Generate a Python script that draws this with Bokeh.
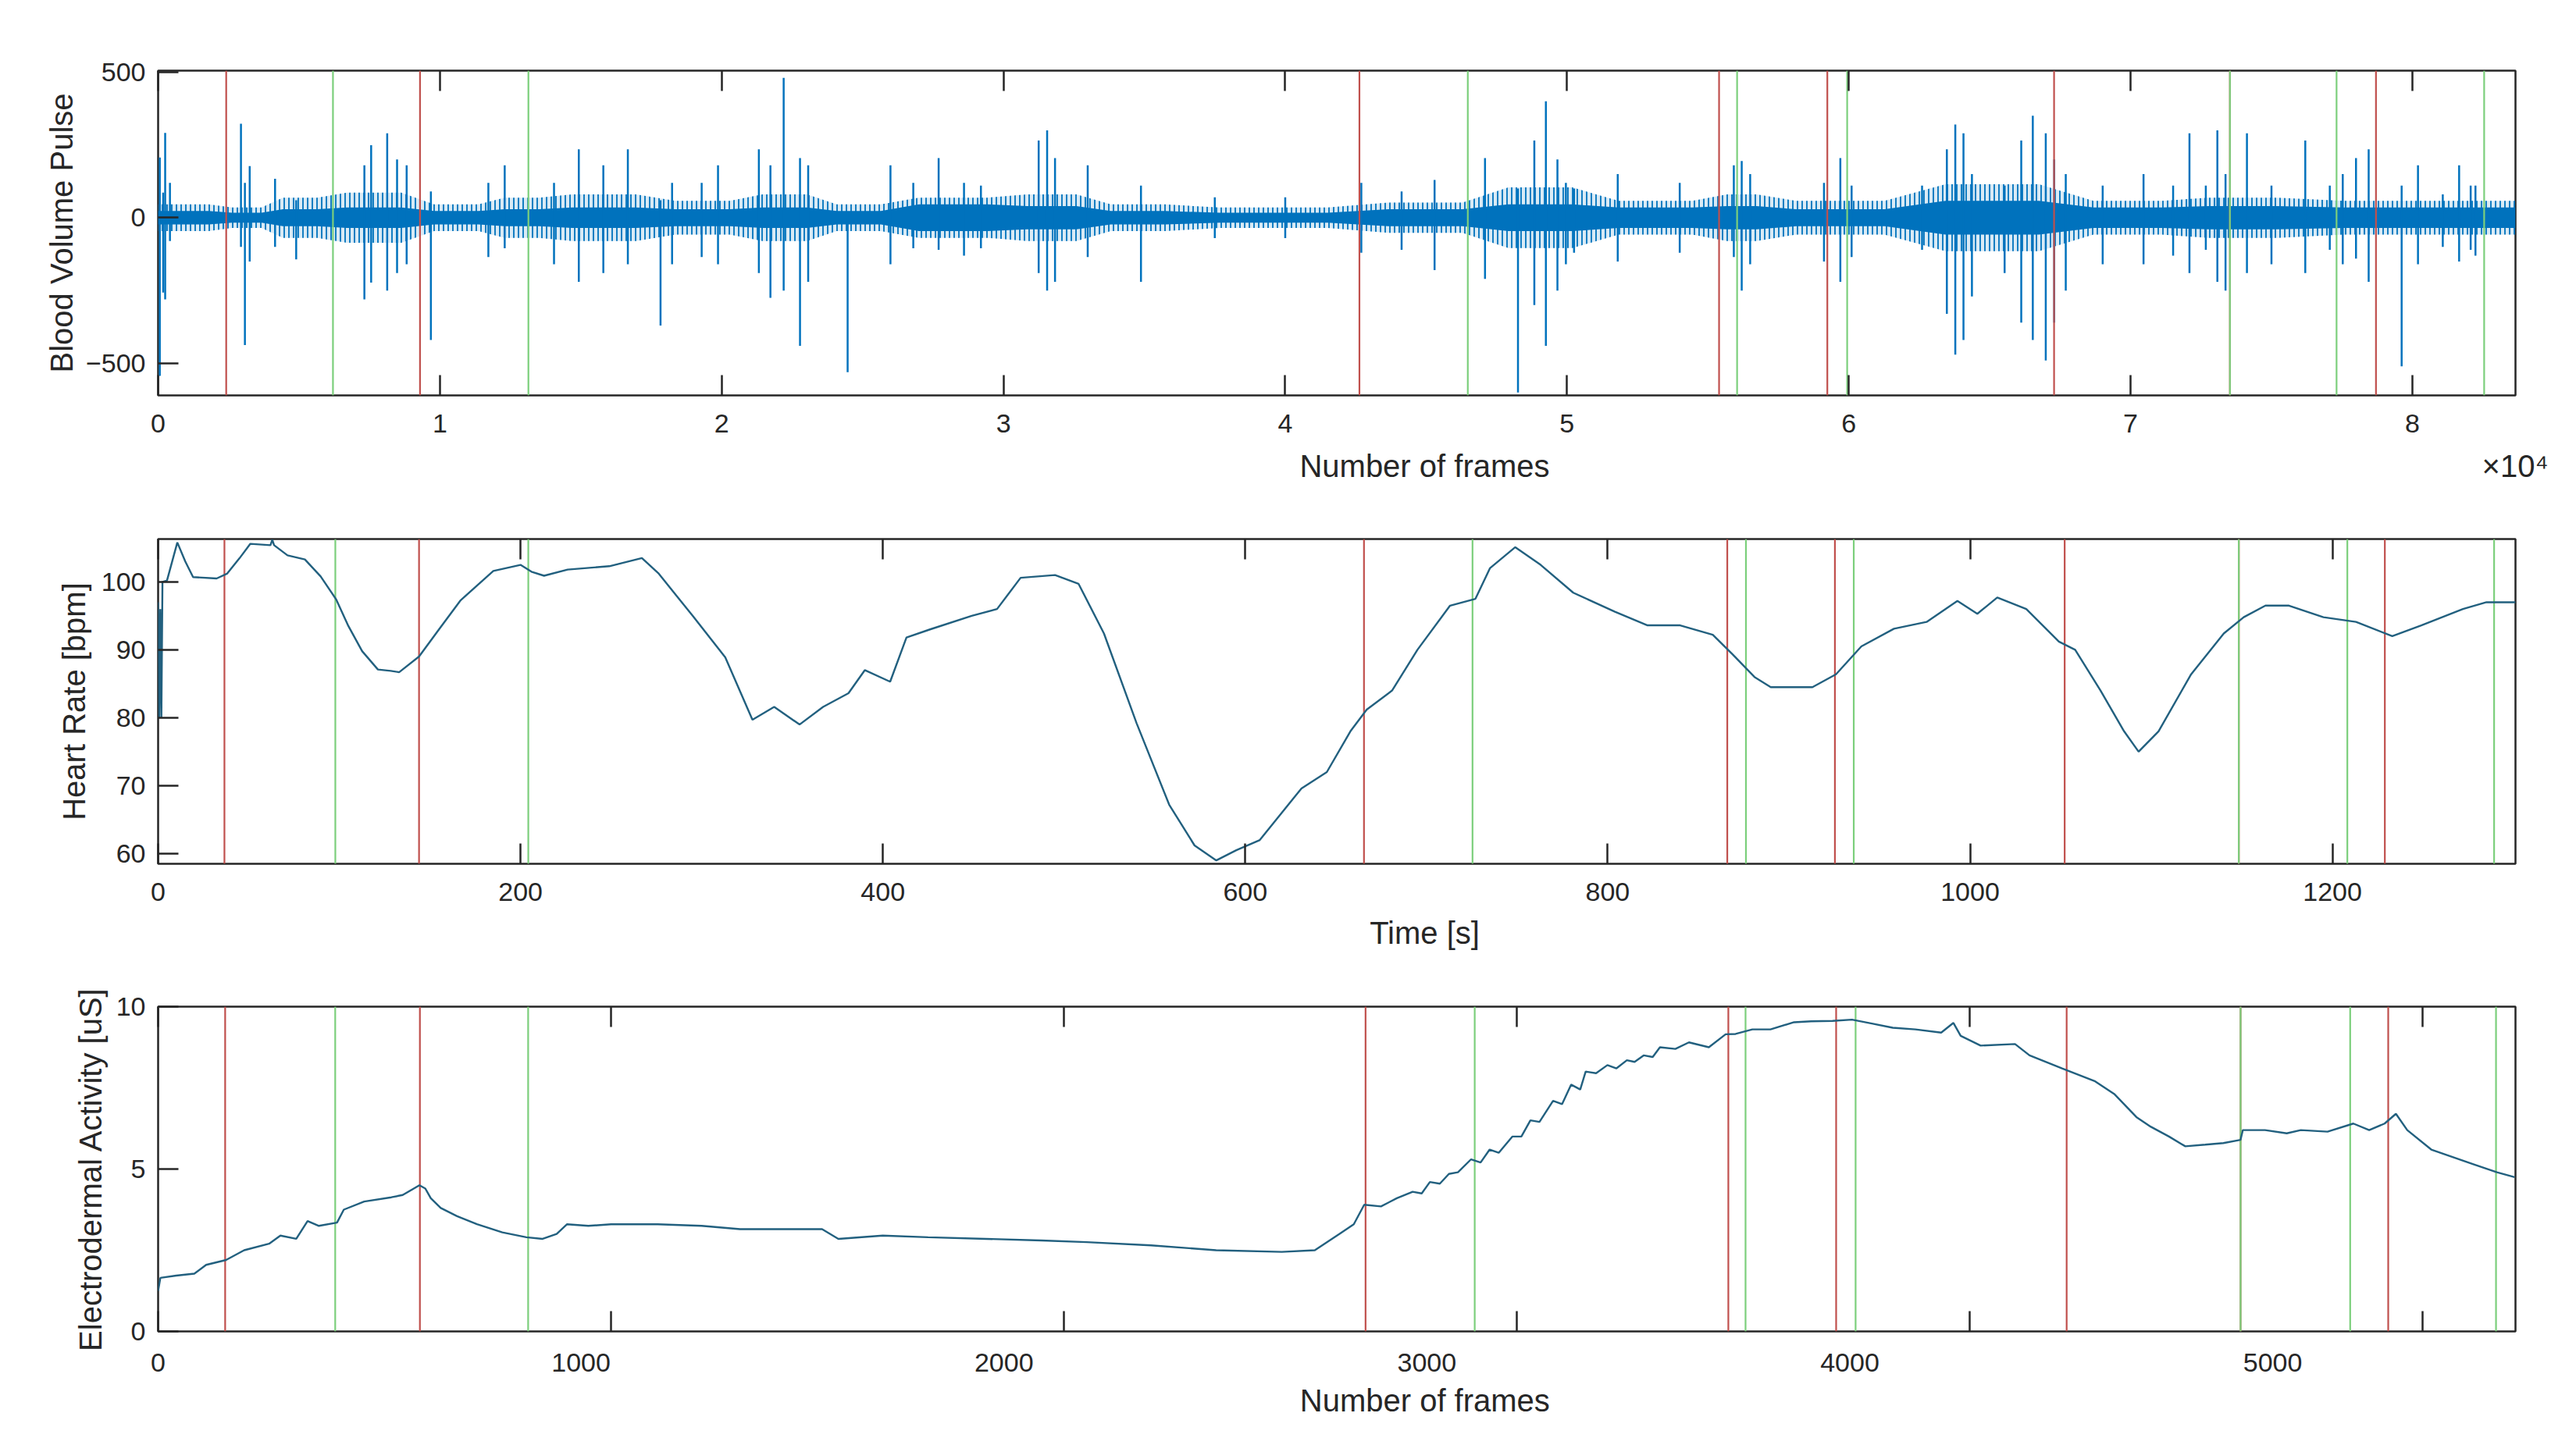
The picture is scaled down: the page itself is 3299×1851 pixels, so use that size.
from bokeh.plotting import figure
from bokeh.layouts import column
from bokeh.models import Range1d, LinearAxis, FixedTicker
from bokeh.embed import file_html
from bokeh.resources import INLINE

# ---------------- data: Blood Volume Pulse (frames, 64 Hz) ----------------
# dense part of the signal: half-height of the solid core and of the fuzzy halo of
# small oscillations, read zone by zone (two nodes per zone)
bvp_band_frames = [0, 1800, 2620, 3670, 4430, 5650, 6700, 8630, 9790, 11370, 12300, 13520,
                   14690, 16960, 18360, 20290, 21450, 23030, 24080, 25650, 27000, 29440,
                   30840, 32590, 33810, 35740, 37660, 41510, 43660, 46290, 47920, 50190,
                   51830, 54450, 55680, 56730, 58130, 61270, 63430, 66750, 68680, 71120,
                   72760, 75200, 77550, 83660]
bvp_core_top = [23, 23, 17, 17, 29, 29, 35, 35, 23, 23, 29, 29, 35, 35, 29, 29, 35, 35, 23,
                23, 46, 46, 40, 40, 23, 23, 17, 17, 29, 29, 46, 46, 35, 35, 40, 40, 29, 29,
                58, 58, 35, 35, 40, 40, 35, 35]
bvp_core_bottom = [-23, -23, -17, -17, -29, -29, -35, -35, -23, -23, -29, -29, -35, -35,
                   -29, -29, -35, -35, -23, -23, -46, -46, -40, -40, -23, -23, -17, -17,
                   -29, -29, -46, -46, -35, -35, -40, -40, -29, -29, -58, -58, -35, -35,
                   -40, -40, -35, -35]
bvp_fuzz_top = [46, 46, 35, 35, 69, 69, 86, 86, 46, 46, 69, 69, 80, 80, 58, 58, 80, 80, 46,
                46, 69, 69, 80, 80, 46, 46, 35, 35, 52, 52, 104, 104, 58, 58, 80, 80, 58, 58,
                115, 115, 58, 58, 69, 69, 58, 58]
bvp_fuzz_bottom = [-46, -46, -35, -35, -69, -69, -86, -86, -46, -46, -69, -69, -80, -80,
                   -58, -58, -80, -80, -46, -46, -69, -69, -80, -80, -46, -46, -35, -35,
                   -52, -52, -104, -104, -58, -58, -80, -80, -58, -58, -115, -115, -58, -58,
                   -69, -69, -58, -58]
spike_frames = [60, 180, 250, 420, 2940, 3080, 3250, 4150, 4900, 7320, 7560, 8130, 8480,
                8820, 9680, 11720, 12300, 14050, 14930, 15800, 16670, 17830, 18240, 19290,
                19870, 21320, 21730, 22200, 22780, 23070, 24470, 25990, 26800, 27700, 28600,
                29200, 31250, 31550, 31830, 32990, 34880, 37500, 40000, 42700, 44130, 45300,
                47090, 48260, 48840, 49250, 49660, 49960, 50250, 51800, 54000, 55920, 56200,
                56500, 59120, 59700, 60100, 62600, 63480, 63780, 64070, 64370, 65530, 66120,
                66530, 66990, 67290, 67700, 69010, 70460, 71510, 72090, 72670, 73080, 73370,
                74130, 75000, 76200, 77070, 77530, 78000, 78450, 79620, 80200, 81080, 81660,
                82070, 82240]
spike_top = [207, 86, 291, 120, 323, 120, 177, 134, 60, 180, 249, 290, 200, 180, 90, 120,
             180, 120, 235, 180, 235, 60, 120, 120, 180, 235, 180, 480, 205, 180, 0, 180,
             120, 205, 120, 110, 265, 300, 205, 180, 110, 70, 70, 120, 90, 130, 205, 100,
             265, 400, 200, 120, 100, 150, 120, 180, 195, 150, 120, 205, 110, 110, 235, 320,
             290, 150, 110, 265, 350, 290, 200, 150, 110, 150, 110, 290, 110, 300, 150, 290,
             110, 265, 110, 150, 205, 235, 110, 180, 80, 180, 110, 110]
spike_bottom = [-543, -257, -280, -80, -100, -437, -150, -100, -143, -280, -223, -250, -190,
                -160, -420, -135, -105, -160, -220, -190, -160, -370, -160, -135, -160, -190,
                -275, -250, -440, -220, -530, -160, -105, -110, -130, -105, -190, -250, -220,
                -135, -220, -70, -70, -120, -110, -180, -210, -600, -300, -440, -250, -160,
                -120, -150, -120, -135, -250, -160, -150, -220, -135, -110, -330, -470, -420,
                -270, -190, -360, -420, -490, -360, -250, -160, -160, -130, -190, -110, -220,
                -250, -190, -160, -190, -110, -160, -140, -220, -510, -160, -100, -150, -110,
                -130]
bvp_red = [2416, 9294, 42633, 55396, 59238, 67285, 73526, 78709]
bvp_green = [6205, 13141, 46479, 56036, 59942, 73526, 77310, 82548]
bvp_xticks = [0, 10000, 20000, 30000, 40000, 50000, 60000, 70000, 80000]
bvp_xlabels = ["0", "1", "2", "3", "4", "5", "6", "7", "8"]
bvp_xlabel = "Number of frames"
bvp_exponent = "×10⁴"

# ---------------- data: Heart Rate (seconds) ----------------
hr_time = [0, 0.6, 1.2, 1.8, 2.4, 4.9, 10.6, 15, 19.3, 32.3, 38, 45, 50.9, 62, 63, 64, 71.4,
           81, 89.7, 98.3, 105, 112.6, 121.3, 128.4, 133, 144, 155, 167, 185, 200, 206, 213,
           226, 249, 267, 276, 295, 313, 328, 340, 354, 367, 381, 390, 404, 413, 426, 449,
           463, 476, 495, 508, 522, 540, 558, 572, 584, 595, 608, 631, 645, 658, 667, 681,
           695, 713, 727, 735, 749, 763, 781, 804, 822, 840, 858, 869, 881, 890, 913, 926,
           940, 958, 976, 993, 1004, 1015, 1031, 1049, 1058, 1072, 1085, 1093, 1104, 1122,
           1140, 1151, 1163, 1176, 1195, 1213, 1233, 1249, 1272, 1285, 1301]
hr_bpm = [97, 80, 96, 80, 100, 100.2, 105.8, 103, 100.7, 100.5, 101.2, 103.5, 105.6, 105.4,
          106.2, 105.4, 103.9, 103.3, 100.8, 97.4, 93.5, 89.8, 87.1, 86.9, 86.7, 89, 93, 97.3,
          101.6, 102.5, 101.5, 100.9, 101.8, 102.3, 103.5, 101.3, 95, 88.9, 79.7, 81.6, 79,
          81.6, 83.6, 87, 85.3, 91.8, 93, 95, 96, 100.6, 101, 99.7, 92.4, 79.2, 67.2, 61.2, 59,
          60.5, 62, 69.6, 72, 78, 81.2, 84, 90, 96.5, 97.5, 102, 105.1, 102.5, 98.4, 95.6,
          93.6, 93.6, 92.2, 89.3, 86, 84.5, 84.5, 86.4, 90.5, 93.1, 94.1, 97.2, 95.3, 97.7, 96,
          91.2, 90, 84, 78, 75, 78, 86.4, 92.4, 94.8, 96.5, 96.5, 94.8, 94.1, 92, 93.6, 96, 97,
          97]
hr_red = [36.6, 144.0, 665.5, 866.0, 925.4, 1052.2, 1148.3, 1228.9]
hr_green = [97.8, 204.3, 725.4, 876.3, 935.8, 1148.3, 1208.2, 1289.2]
hr_xticks = [0, 200, 400, 600, 800, 1000, 1200]
hr_xlabel = "Time [s]"

# ---------------- data: Electrodermal Activity (frames, 4 Hz) ----------------
eda_frames = [0, 5, 40, 80, 106, 150, 190, 245, 270, 305, 330, 355, 395, 410, 455, 515, 540,
              577, 590, 602, 624, 660, 704, 760, 813, 849, 880, 903, 950, 1000, 1103, 1200,
              1285, 1400, 1466, 1502, 1600, 1700, 1829, 1950, 2050, 2192, 2336, 2481, 2554,
              2608, 2640, 2663, 2700, 2735, 2770, 2790, 2808, 2830, 2850, 2870, 2899, 2920,
              2940, 2960, 2990, 3010, 3030, 3050, 3080, 3100, 3120, 3140, 3152, 3175, 3200,
              3220, 3243, 3260, 3280, 3300, 3316, 3350, 3380, 3424, 3461, 3483, 3520, 3560,
              3612, 3650, 3697, 3740, 3784, 3830, 3880, 3937, 3964, 3980, 4024, 4100, 4132,
              4204, 4277, 4320, 4368, 4400, 4440, 4476, 4520, 4560, 4598, 4603, 4652, 4700,
              4731, 4790, 4847, 4882, 4916, 4941, 4966, 5019, 5112, 5164, 5203]
eda_us = [1.25, 1.65, 1.72, 1.78, 2.05, 2.2, 2.5, 2.7, 2.95, 2.85, 3.4, 3.25, 3.35, 3.75, 4.0,
          4.13, 4.2, 4.5, 4.4, 4.1, 3.8, 3.55, 3.3, 3.05, 2.9, 2.85, 3.0, 3.3, 3.25, 3.3, 3.3,
          3.25, 3.15, 3.15, 3.15, 2.85, 2.95, 2.9, 2.85, 2.8, 2.75, 2.65, 2.5, 2.45, 2.5, 3.0,
          3.3, 3.9, 3.85, 4.1, 4.3, 4.25, 4.6, 4.55, 4.85, 4.9, 5.3, 5.2, 5.6, 5.5, 6.0, 6.0,
          6.5, 6.45, 7.1, 7.0, 7.6, 7.45, 8.0, 7.95, 8.2, 8.1, 8.35, 8.3, 8.5, 8.45, 8.75, 8.7,
          8.9, 8.75, 9.15, 9.16, 9.3, 9.3, 9.52, 9.55, 9.56, 9.6, 9.48, 9.35, 9.3, 9.2, 9.5,
          9.1, 8.8, 8.85, 8.5, 8.1, 7.7, 7.3, 6.6, 6.3, 6.0, 5.7, 5.75, 5.8, 5.9, 6.2, 6.2,
          6.1, 6.2, 6.15, 6.4, 6.2, 6.4, 6.7, 6.2, 5.6, 5.15, 4.9, 4.75]
eda_red = [148, 578, 2666, 3467, 3705, 4214, 4598, 4924]
eda_green = [391, 817, 2907, 3505, 3748, 4598, 4840, 5162]
eda_ticks = [0, 1000, 2000, 3000, 4000, 5000]
eda_xlabel = "Number of frames"

# ---------------- style ----------------
FONT = "Liberation Sans"
TXT = "#262626"
RED = "#c0504d"
GREEN = "#7ccf7c"
BLUE = "#0072BD"
DARK = "#22607f"
TICK_FS = "34px"
LABEL_FS = "40px"
FW, FH = 3019, 416


def make_fig(xr, yr, top, bottom):
    p = figure(output_backend="svg", toolbar_location=None,
               frame_width=FW, frame_height=FH,
               x_range=xr, y_range=yr,
               x_axis_location=None, y_axis_location=None,
               min_border_left=202, min_border_right=78,
               min_border_top=top, min_border_bottom=bottom,
               background_fill_color="white", border_fill_color="white")
    p.xgrid.visible = False
    p.ygrid.visible = False
    p.outline_line_color = TXT
    p.outline_line_width = 2.5
    p.outline_line_alpha = 1.0
    return p


def style_axis(ax, ticks, show_labels=True, tick_len=26):
    ax.ticker = FixedTicker(ticks=ticks)
    ax.major_tick_in = tick_len
    ax.major_tick_out = 0
    ax.major_tick_line_color = TXT
    ax.major_tick_line_width = 2.5
    ax.minor_tick_line_color = None
    ax.axis_line_color = None
    ax.major_label_text_font = FONT
    ax.major_label_text_font_size = TICK_FS
    ax.major_label_text_color = TXT if show_labels else None
    ax.axis_label_text_font = FONT
    ax.axis_label_text_font_size = LABEL_FS
    ax.axis_label_text_font_style = "normal"
    ax.axis_label_text_color = TXT
    return ax


def title_axis(labels, standoff, range_name="default"):
    """A tick-less axis row that carries the axis title (placed like the reference)."""
    ticks = list(labels.keys())
    a = style_axis(LinearAxis(x_range_name=range_name), ticks)
    a.major_tick_line_color = None
    a.major_tick_in = 0
    a.major_label_text_font_size = LABEL_FS
    a.major_label_standoff = standoff
    a.major_label_overrides = labels
    return a


def vlines(p, xs, y0, y1, color):
    p.segment(x0=xs, y0=[y0] * len(xs), x1=xs, y1=[y1] * len(xs),
              line_color=color, line_width=2.2)


# ---------------- panel 1 ----------------
p1 = make_fig(Range1d(0, 83660), Range1d(-610, 505), 90, 125)
p1.varea(x=bvp_band_frames, y1=bvp_fuzz_bottom, y2=bvp_fuzz_top,
         fill_color=BLUE, fill_alpha=0.15,
         hatch_pattern="vertical_line", hatch_color=BLUE, hatch_scale=6,
         hatch_weight=2, hatch_alpha=0.9)
p1.varea(x=bvp_band_frames, y1=bvp_core_bottom, y2=bvp_core_top, fill_color=BLUE)
p1.segment(x0=spike_frames, y0=spike_bottom, x1=spike_frames, y1=spike_top,
           line_color=BLUE, line_width=2.5)
vlines(p1, bvp_red, -610, 505, RED)
vlines(p1, bvp_green, -610, 505, GREEN)
ax = style_axis(LinearAxis(), bvp_xticks)
ax.major_label_overrides = {t: l for t, l in zip(bvp_xticks, bvp_xlabels)}
ax.major_label_standoff = 24
p1.add_layout(ax, "below")
p1.add_layout(title_axis({44947: bvp_xlabel, 83650: bvp_exponent}, 18), "below")
p1.add_layout(style_axis(LinearAxis(), bvp_xticks, show_labels=False), "above")
ay = style_axis(LinearAxis(axis_label="Blood Volume Pulse"), [-500, 0, 500])
ay.major_label_standoff = 16
ay.axis_label_standoff = 6
p1.add_layout(ay, "left")

# ---------------- panel 2 ----------------
p2 = make_fig(Range1d(0, 1301), Range1d(58.5, 106.3), 59, 125)
vlines(p2, hr_red, 58.5, 106.3, RED)
vlines(p2, hr_green, 58.5, 106.3, GREEN)
p2.line(hr_time, hr_bpm, line_color=DARK, line_width=2.4)
ax = style_axis(LinearAxis(), hr_xticks)
ax.major_label_standoff = 24
p2.add_layout(ax, "below")
p2.add_layout(title_axis({699: hr_xlabel}, 16), "below")
p2.add_layout(style_axis(LinearAxis(), hr_xticks, False), "above")
ay = style_axis(LinearAxis(axis_label="Heart Rate [bpm]"), [60, 70, 80, 90, 100])
ay.major_label_standoff = 16
ay.axis_label_standoff = 10
p2.add_layout(ay, "left")

# ---------------- panel 3 ----------------
p3 = make_fig(Range1d(0, 5205), Range1d(0, 10), 58, 130)
p3.extra_x_ranges = {"lbl": Range1d(0, 5574)}
vlines(p3, eda_red, 0, 10, RED)
vlines(p3, eda_green, 0, 10, GREEN)
p3.line(eda_frames, eda_us, line_color=DARK, line_width=2.4)
tick_ax = style_axis(LinearAxis(), eda_ticks, show_labels=False)
tick_ax.major_label_standoff = 0
p3.add_layout(tick_ax, "below")
lab_ax = style_axis(LinearAxis(x_range_name="lbl"), eda_ticks)
lab_ax.major_tick_line_color = None
lab_ax.major_tick_in = 0
lab_ax.major_label_standoff = 28
p3.add_layout(lab_ax, "below")
p3.add_layout(title_axis({2797: eda_xlabel}, 12), "below")
p3.add_layout(style_axis(LinearAxis(), eda_ticks, False), "above")
ay = style_axis(LinearAxis(axis_label="Electrodermal Activity [uS]"), [0, 5, 10])
ay.major_label_standoff = 16
ay.axis_label_standoff = 8
p3.add_layout(ay, "left")

layout = column(p1, p2, p3, spacing=0)
open("out.html", "w").write(file_html(layout, INLINE))
